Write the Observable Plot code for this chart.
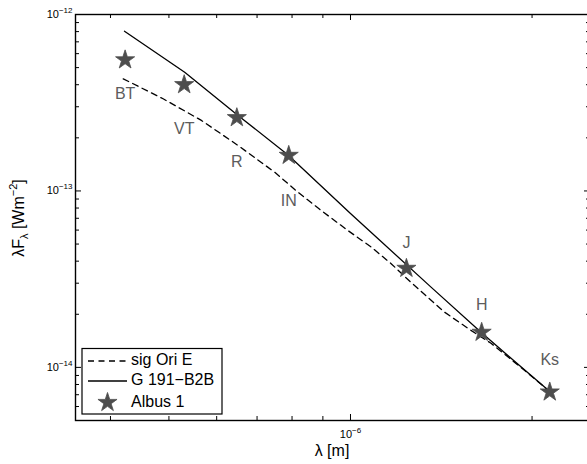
<!DOCTYPE html>
<html>
<head>
<meta charset="utf-8">
<script src="https://cdn.jsdelivr.net/npm/d3@7"></script>
<script src="https://cdn.jsdelivr.net/npm/@observablehq/plot@0.6"></script>
<style>
  body { margin: 0; background: #fff; }
  #chart svg { font-family: "Liberation Sans", Arial, Helvetica, sans-serif; }
</style>
</head>
<body>
<div id="chart"></div>
<script>
// ---------- data ----------
const bands = ["BT", "VT", "R", "IN", "J", "H", "Ks"];
const bandWavelength = [4.23e-7, 5.30e-7, 6.48e-7, 7.90e-7, 1.238e-6, 1.65e-6, 2.14e-6];
const albusFlux = [5.53e-13, 4.0e-13, 2.6e-13, 1.59e-13, 3.64e-14, 1.58e-14, 7.25e-15];
const bandLabelFlux = [3.55e-13, 2.25e-13, 1.46e-13, 8.8e-14, 5.1e-14, 2.25e-14, 1.10e-14];

const g191Wavelength = [4.22e-7, 5.31e-7, 6.51e-7, 7.88e-7, 1.0e-6, 1.36e-6, 1.646e-6, 2.14e-6];
const g191Flux = [8.04e-13, 4.71e-13, 2.68e-13, 1.60e-13, 7.45e-14, 2.85e-14, 1.58e-14, 7.3e-15];

const sigOriWavelength = [4.20e-7, 4.89e-7, 5.66e-7, 6.51e-7, 7.30e-7, 7.48e-7, 8.18e-7, 8.94e-7, 9.90e-7,
                          1.082e-6, 1.168e-6, 1.26e-6, 1.431e-6, 1.584e-6, 1.71e-6, 1.917e-6, 2.14e-6];
const sigOriFlux = [4.32e-13, 3.33e-13, 2.51e-13, 1.81e-13, 1.36e-13, 1.28e-13, 9.84e-14, 7.75e-14, 5.97e-14,
                    4.81e-14, 3.87e-14, 3.03e-14, 2.06e-14, 1.62e-14, 1.37e-14, 1.00e-14, 7.3e-15];

const seriesNames = ["sig Ori E", "G 191\u2212B2B", "Albus 1"];

const xDomain = [3.5e-7, 2.5e-6];
const yDomain = [5e-15, 1e-12];
const xMajorTicks = [1e-6];
const xMinorTicks = [4e-7, 5e-7, 6e-7, 7e-7, 8e-7, 9e-7, 2e-6];
const yMajorTicks = [1e-14, 1e-13, 1e-12];
const yMinorTicks = [6e-15, 7e-15, 8e-15, 9e-15,
                     2e-14, 3e-14, 4e-14, 5e-14, 6e-14, 7e-14, 8e-14, 9e-14,
                     2e-13, 3e-13, 4e-13, 5e-13, 6e-13, 7e-13, 8e-13, 9e-13];
const xTickLabels = ["10^\u22126"];
const yTickLabels = ["10^\u221214", "10^\u221213", "10^\u221212"];

// ---------- tables ----------
const albus = bands.map((b, i) => ({band: b, x: bandWavelength[i], y: albusFlux[i], ly: bandLabelFlux[i]}));
const g191 = g191Wavelength.map((x, i) => ({x, y: g191Flux[i]}));
const sigOri = sigOriWavelength.map((x, i) => ({x, y: sigOriFlux[i]}));
const xTickTable = xMajorTicks.map((v, i) => ({v, label: xTickLabels[i]}));
const yTickTable = yMajorTicks.map((v, i) => ({v, label: yTickLabels[i]}));

// ---------- layout ----------
const W = 587, H = 464;
const mL = 75, mT = 14, mB = 44, mR = -3;
const innerW = W - mL - mR;
const innerH = H - mT - mB;
const minorLen = 4, majorLen = 6;

const chart = Plot.plot({
  width: W,
  height: H,
  marginLeft: mL,
  marginTop: mT,
  marginBottom: mB,
  marginRight: mR,
  style: {background: "white", fontFamily: "Liberation Sans, Arial, sans-serif"},
  x: {type: "log", domain: xDomain, axis: null},
  y: {type: "log", domain: yDomain, axis: null},
  marks: [
    // inward ticks on all four sides
    Plot.ruleX(xMinorTicks, {insetTop: innerH - minorLen, stroke: "black"}),
    Plot.ruleX(xMinorTicks, {insetBottom: innerH - minorLen, stroke: "black"}),
    Plot.ruleX(xMajorTicks, {insetTop: innerH - majorLen, stroke: "black"}),
    Plot.ruleX(xMajorTicks, {insetBottom: innerH - majorLen, stroke: "black"}),
    Plot.ruleY(yMinorTicks, {insetRight: innerW - minorLen, stroke: "black"}),
    Plot.ruleY(yMinorTicks, {insetLeft: innerW - minorLen, stroke: "black"}),
    Plot.ruleY(yMajorTicks, {insetRight: innerW - majorLen, stroke: "black"}),
    Plot.ruleY(yMajorTicks, {insetLeft: innerW - majorLen, stroke: "black"}),
    // tick labels
    Plot.text(xTickTable, {x: "v", text: "label", frameAnchor: "bottom", dy: 17, fontSize: 11, fill: "black"}),
    Plot.text(yTickTable, {y: "v", text: "label", frameAnchor: "left", textAnchor: "end", dx: -3, fontSize: 11, fill: "black"}),
    // series
    Plot.line(sigOri, {x: "x", y: "y", stroke: "black", strokeWidth: 1.3, strokeDasharray: "6,4.5"}),
    Plot.line(g191, {x: "x", y: "y", stroke: "black", strokeWidth: 1.3}),
    Plot.dot(albus, {x: "x", y: "y", symbol: "star", r: 6, fill: "#4d4d4d", stroke: "#4d4d4d", strokeWidth: 0.8}),
    Plot.text(albus, {x: "x", y: "ly", text: "band", fontSize: 16, fill: "#5c5c5c"}),
    Plot.frame({stroke: "black", strokeWidth: 1.4})
  ]
});

const svg = d3.select(chart);

// superscript tick labels
svg.selectAll("text").each(function () {
  const t = this.textContent;
  const m = t.match(/^10\^(.+)$/);
  if (m) {
    const sel = d3.select(this);
    sel.text(null);
    sel.append("tspan").text("10");
    sel.append("tspan").attr("dy", "-5").attr("font-size", "8px").text(m[1]);
  }
});

// axis titles
svg.append("text")
  .attr("x", 332).attr("y", 452)
  .attr("text-anchor", "middle").attr("dominant-baseline", "middle")
  .attr("font-size", 16).attr("fill", "black")
  .text("\u03bb [m]");

const yt = svg.append("text")
  .attr("transform", "translate(24,218) rotate(-90)")
  .attr("text-anchor", "middle")
  .attr("font-size", 16).attr("fill", "black");
yt.append("tspan").text("\u03bbF");
yt.append("tspan").attr("font-size", "11px").attr("dy", "4").text("\u03bb");
yt.append("tspan").attr("dy", "-4").text(" [Wm");
yt.append("tspan").attr("font-size", "11px").attr("dy", "-7").text("\u22122");
yt.append("tspan").attr("dy", "7").text("]");

// legend
const lg = svg.append("g");
lg.append("rect").attr("x", 82).attr("y", 348.5).attr("width", 140).attr("height", 65.5)
  .attr("fill", "white").attr("stroke", "black").attr("stroke-width", 1.2);
const rows = [361, 381, 402.5];
lg.append("line").attr("x1", 88).attr("x2", 127).attr("y1", rows[0]).attr("y2", rows[0])
  .attr("stroke", "black").attr("stroke-width", 1.3).attr("stroke-dasharray", "6,4.5");
lg.append("line").attr("x1", 88).attr("x2", 127).attr("y1", rows[1]).attr("y2", rows[1])
  .attr("stroke", "black").attr("stroke-width", 1.3);
lg.append("path").attr("d", d3.symbol(d3.symbolStar, 6 * 6 * Math.PI)())
  .attr("transform", `translate(107.5,${rows[2]})`)
  .attr("fill", "#4d4d4d").attr("stroke", "#4d4d4d").attr("stroke-width", 0.8);
seriesNames.forEach((name, i) => {
  lg.append("text").attr("x", 131).attr("y", rows[i])
    .attr("text-anchor", "start")
    .attr("dominant-baseline", "middle").attr("font-size", 16).attr("fill", "black")
    .text(name);
});

document.getElementById("chart").appendChild(chart);
</script>
</body>
</html>
